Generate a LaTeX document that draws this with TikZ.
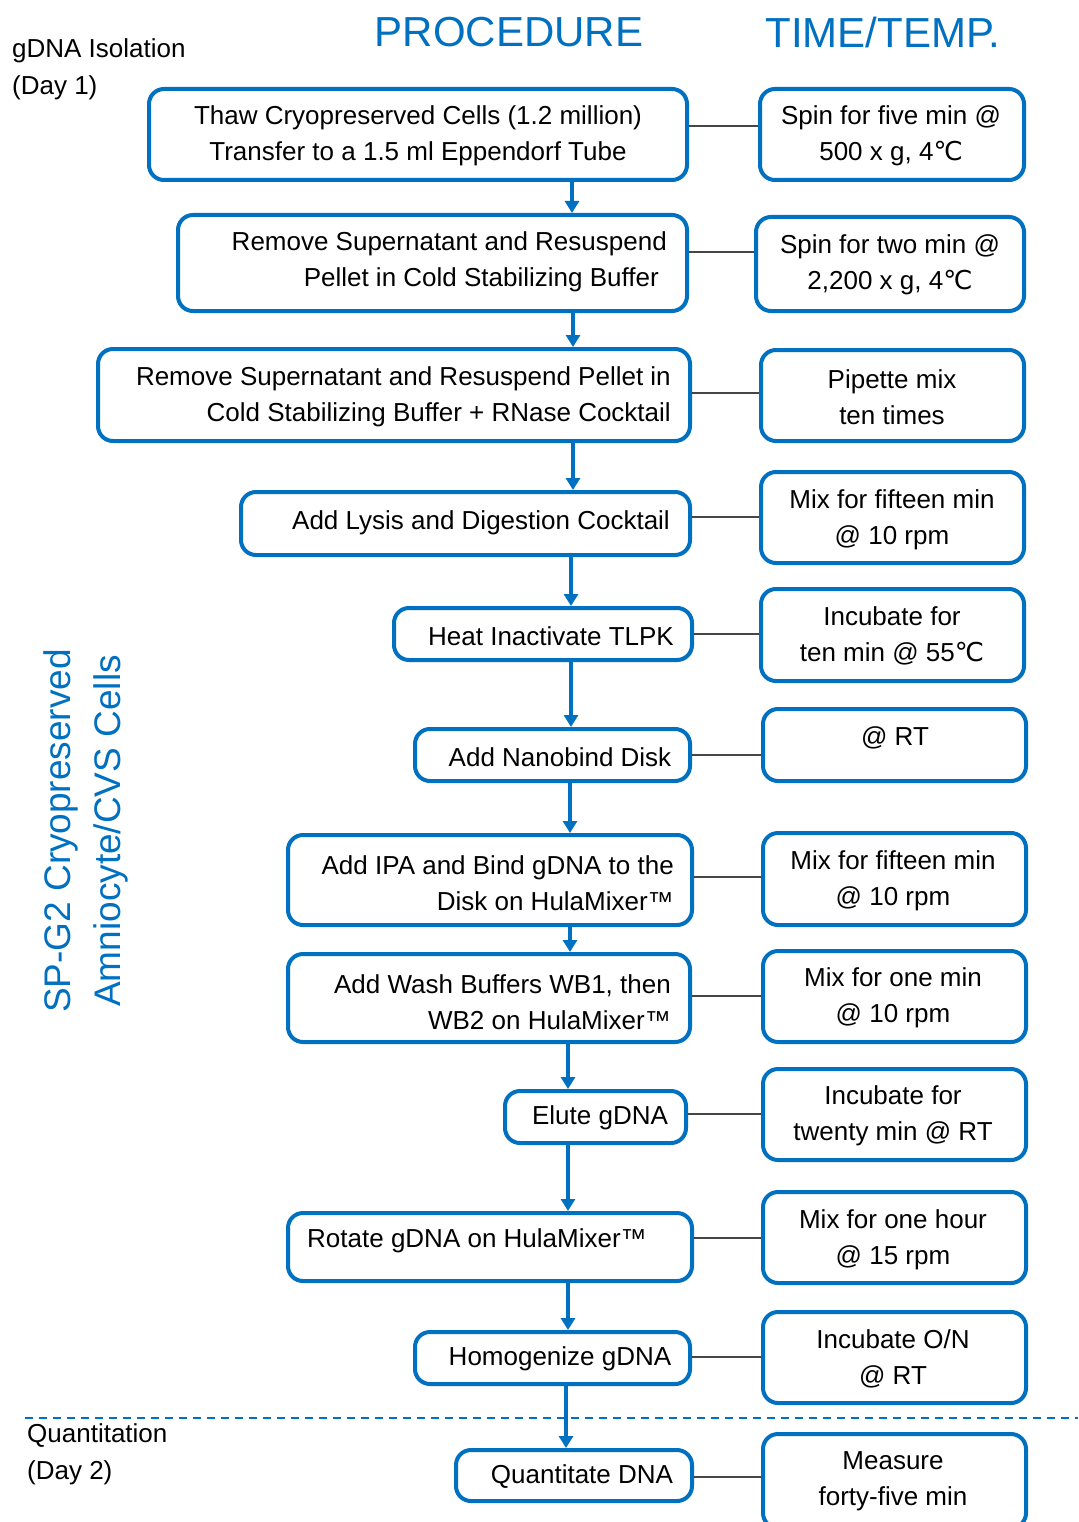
\documentclass[tikz,border=0pt]{standalone}
\usepackage{fontspec}
\setmainfont{Liberation Sans}
\newfontfamily\djv{DejaVu Sans}
\usetikzlibrary{arrows.meta}
\definecolor{pblue}{RGB}{0,112,192}
\definecolor{cgray}{RGB}{70,70,70}
\newcommand\degC{{\djv ℃}}
\begin{document}
\begin{tikzpicture}[x=1pt,y=-1pt,
  bx/.style={draw=pblue, line width=4pt, rounded corners=15pt, inner sep=0pt, fill=white},
  txt/.style={inner sep=0pt, font=\fontsize{26}{36}\selectfont, align=center, text=black},
  txtr/.style={txt, align=right, anchor=east},
  ttl/.style={inner sep=0pt, font=\fontsize{42}{50}\selectfont, text=pblue},
  side/.style={inner sep=0pt, font=\fontsize{26}{37}\selectfont, align=left, anchor=west},
  conn/.style={draw=cgray, line width=1.6pt},
  arr/.style={draw=pblue, line width=3.5pt, -{Triangle[length=12pt,width=14pt]}}
]
\useasboundingbox (0,0) rectangle (1078,1522);
\clip (0,0) rectangle (1078,1522);
\fill[white] (0,0) rectangle (1078,1522);

% titles
\node[ttl] (tproc) at (509,32) {PROCEDURE};
\node[ttl] (ttime) at (883,32) {TIME/TEMP.};
\node[side] (day1) at (12,69) {gDNA Isolation\\(Day 1)};
\node[side] (day2) at (27,1454) {Quantitation\\(Day 2)};
\node[inner sep=0pt, rotate=90, align=center, text=pblue, font=\fontsize{37}{50}\selectfont] (vert) at (86,831) {SP-G2 Cryopreserved\\Amniocyte/CVS Cells};

% dashed separator
\coordinate (dl) at (25,1418);
\coordinate (dr) at (1078,1418);
\draw[pblue, line width=2pt, dash pattern=on 8pt off 6pt] (dl) -- (dr);

% left boxes
\node[bx, minimum width=538pt, minimum height=91pt] (L1) at (418,134.5) {};
\node[bx, minimum width=509pt, minimum height=96pt] (L2) at (432.5,263) {};
\node[bx, minimum width=592pt, minimum height=92pt] (L3) at (394,395) {};
\node[bx, minimum width=449pt, minimum height=63pt] (L4) at (465.5,523.5) {};
\node[bx, minimum width=298pt, minimum height=52pt] (L5) at (543,634) {};
\node[bx, minimum width=275pt, minimum height=52pt] (L6) at (552.5,755) {};
\node[bx, minimum width=404pt, minimum height=90pt] (L7) at (490,880) {};
\node[bx, minimum width=402pt, minimum height=88pt] (L8) at (489,998) {};
\node[bx, minimum width=181pt, minimum height=52pt] (L9) at (595.5,1117) {};
\node[bx, minimum width=404pt, minimum height=68pt] (L10) at (490,1247) {};
\node[bx, minimum width=275pt, minimum height=52pt] (L11) at (552.5,1358) {};
\node[bx, minimum width=236pt, minimum height=51pt] (L12) at (574,1475.5) {};

% right boxes
\node[bx, minimum width=264pt, minimum height=91pt] (R1) at (892,134.5) {};
\node[bx, minimum width=268pt, minimum height=94pt] (R2) at (890,264) {};
\node[bx, minimum width=263pt, minimum height=91pt] (R3) at (892.5,395.5) {};
\node[bx, minimum width=263pt, minimum height=91pt] (R4) at (892.5,517.5) {};
\node[bx, minimum width=263pt, minimum height=92pt] (R5) at (892.5,635) {};
\node[bx, minimum width=263pt, minimum height=72pt] (R6) at (894.5,745) {};
\node[bx, minimum width=263pt, minimum height=92pt] (R7) at (894.5,879) {};
\node[bx, minimum width=263pt, minimum height=91pt] (R8) at (894.5,996.5) {};
\node[bx, minimum width=263pt, minimum height=91pt] (R9) at (894.5,1114.5) {};
\node[bx, minimum width=263pt, minimum height=91pt] (R10) at (894.5,1237.5) {};
\node[bx, minimum width=263pt, minimum height=91pt] (R11) at (894.5,1357.5) {};
\node[bx, minimum width=263pt, minimum height=94pt] (R12) at (894.5,1481) {};

% left texts
\node[txt] (t1) at (418,136) {Thaw Cryopreserved Cells (1.2 million)\\Transfer to a 1.5 ml Eppendorf Tube};
\node[txtr] (t2) at (667,262) {Remove Supernatant and Resuspend\\Pellet in Cold Stabilizing Buffer\kern8pt\null};
\node[txtr] (t3) at (671,397) {Remove Supernatant and Resuspend Pellet in\\Cold Stabilizing Buffer + RNase Cocktail};
\node[txt] (t4) at (481,523) {Add Lysis and Digestion Cocktail};
\node[txt] (t5) at (551,636) {Heat Inactivate TLPK};
\node[txt] (t6) at (560,757) {Add Nanobind Disk};
\node[txtr] (t7) at (674,883) {Add IPA and Bind gDNA to the\\Disk on HulaMixer™};
\node[txtr] (t8) at (671,1002) {Add Wash Buffers WB1, then\\WB2 on HulaMixer™};
\node[txt] (t9) at (600,1118) {Elute gDNA};
\node[txt] (t10) at (477,1241) {Rotate gDNA on HulaMixer™};
\node[txt] (t11) at (560,1359) {Homogenize gDNA};
\node[txt] (t12) at (582,1477) {Quantitate DNA};

% right texts
\node[txt] (s1) at (891,136) {Spin for five min @\\500 x g, 4\degC};
\node[txt] (s2) at (890,265) {Spin for two min @\\2,200 x g, 4\degC};
\node[txt] (s3) at (892,397) {Pipette mix\\ten times};
\node[txt] (s4) at (892,520) {Mix for fifteen min\\@ 10 rpm};
\node[txt] (s5) at (892,636) {Incubate for\\ten min @ 55\degC};
\node[txt] (s6) at (895,738) {@ RT};
\node[txt] (s7) at (893,881) {Mix for fifteen min\\@ 10 rpm};
\node[txt] (s8) at (893,998) {Mix for one min\\@ 10 rpm};
\node[txt] (s9) at (893,1116) {Incubate for\\twenty min @ RT};
\node[txt] (s10) at (893,1240) {Mix for one hour\\@ 15 rpm};
\node[txt] (s11) at (893,1359) {Incubate O/N\\@ RT};
\node[txt] (s12) at (893,1481) {Measure\\forty-five min};

% connectors
\foreach \i/\yy in {1/126,2/252,3/393,4/517,5/634,6/755,7/877,8/996,9/1114,10/1238,11/1357,12/1477}{
  \coordinate (cy\i) at (0,\yy);
  \draw[conn] (L\i.east |- cy\i) -- (R\i.west |- cy\i);
}

% arrows
\foreach \i/\j/\xx in {1/2/572,2/3/573,3/4/573,4/5/571,5/6/571,6/7/570,7/8/570,8/9/568,9/10/568,10/11/568,11/12/566}{
  \coordinate (ax\i) at (\xx,0);
  \draw[arr] (L\i.south -| ax\i) -- (L\j.north -| ax\i);
}
\end{tikzpicture}
\end{document}
